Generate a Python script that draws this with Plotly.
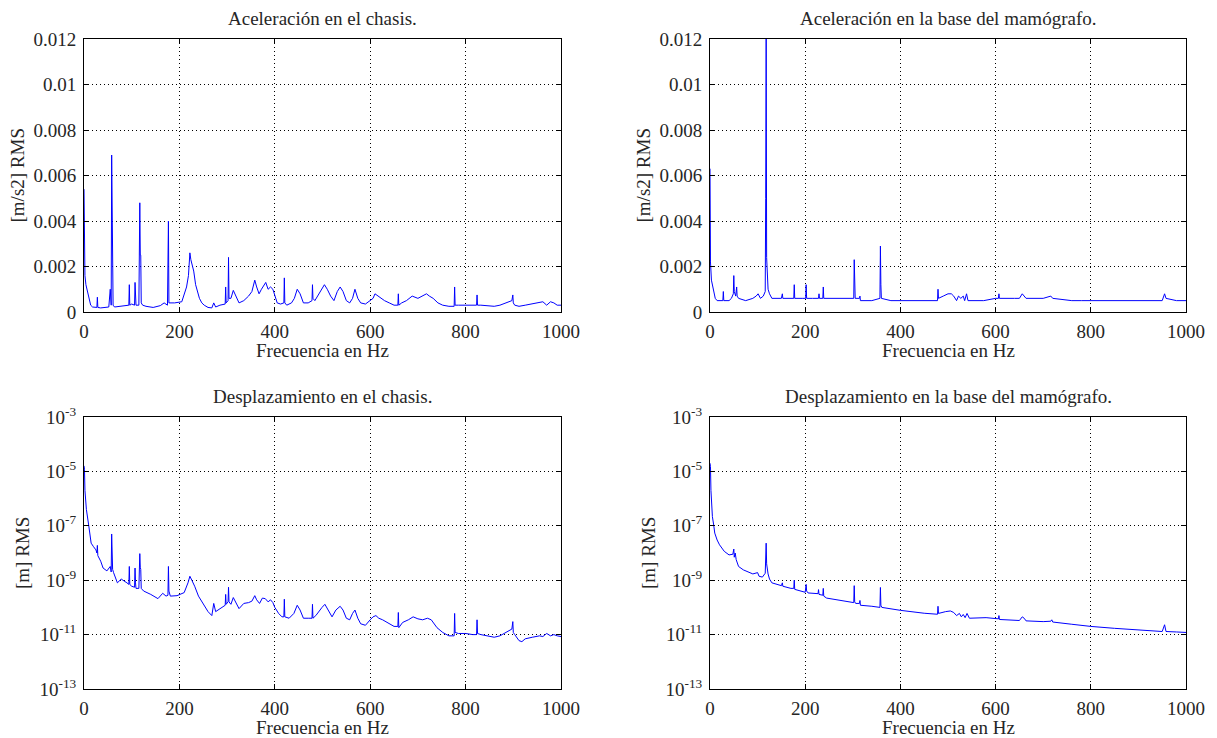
import plotly.graph_objects as go

# ---------------- data ----------------
acc_chasis_f = [0, 1, 2, 4, 7, 10, 14, 18, 24, 27, 28, 29, 35, 45, 52, 55, 57, 58, 59, 60, 61, 64, 75, 85, 94, 95, 96,
                100, 106, 107, 108, 109, 115, 117, 118, 119, 120, 123, 130, 145, 160, 168, 175, 176, 177, 178, 181, 190,
                205, 210, 215, 219, 222, 224, 227, 230, 234, 238, 242, 247, 252, 260, 268, 272, 276, 285, 296, 297, 298,
                302, 303, 304, 308, 313, 318, 325, 335, 345, 352, 358, 362, 367, 372, 377, 381, 386, 391, 396, 400, 405,
                412, 419, 420, 421, 425, 435, 441, 447, 453, 460, 470, 478, 479, 480, 484, 492, 499, 504, 510, 517, 524,
                531, 537, 543, 550, 557, 563, 568, 574, 580, 590, 600, 606, 610, 616, 622, 630, 640, 650, 658, 659, 660,
                666, 676, 688, 700, 710, 718, 724, 732, 742, 752, 765, 776, 777, 778, 785, 800, 815, 823, 824, 825, 832,
                845, 860, 872, 885, 897, 899, 900, 903, 912, 925, 940, 955, 962, 970, 978, 985, 992, 1000]
acc_chasis_v = [0.0054, 0.0018, 0.0016, 0.0012, 0.0009, 0.0006, 0.0003, 0.00022, 0.0002, 0.0002, 0.00065, 0.0002,
                0.00018, 0.0002, 0.00022, 0.001, 0.0003, 0.0069, 0.0051, 0.0012, 0.0003, 0.00022, 0.00025, 0.0003,
                0.0003, 0.0012, 0.0003, 0.00035, 0.0003, 0.0013, 0.0007, 0.0003, 0.0003, 0.0048, 0.0025, 0.0025, 0.0004,
                0.0003, 0.00025, 0.0002, 0.00028, 0.0004, 0.0003, 0.0029, 0.004, 0.0004, 0.0004, 0.0004, 0.00045, 0.0008,
                0.0011, 0.0016, 0.0026, 0.0023, 0.002, 0.0018, 0.0012, 0.0009, 0.0006, 0.0004, 0.0003, 0.0002, 0.00018,
                0.0004, 0.00022, 0.0003, 0.00035, 0.0011, 0.0004, 0.0005, 0.0024, 0.0006, 0.0006, 0.00095, 0.0007,
                0.0004, 0.0005, 0.0007, 0.0009, 0.0014, 0.0011, 0.0008, 0.001, 0.0012, 0.0013, 0.001, 0.0011, 0.001,
                0.0007, 0.0004, 0.00035, 0.0004, 0.0015, 0.0004, 0.0003, 0.0004, 0.0006, 0.001, 0.0008, 0.0004, 0.0004,
                0.0005, 0.0012, 0.0006, 0.0005, 0.0008, 0.001, 0.0012, 0.001, 0.0007, 0.0005, 0.0009, 0.0011, 0.0009,
                0.0005, 0.0004, 0.0006, 0.001, 0.0006, 0.0004, 0.00035, 0.0005, 0.0006, 0.0008, 0.0007, 0.0006, 0.0005,
                0.0004, 0.0003, 0.0003, 0.0008, 0.0003, 0.0004, 0.0005, 0.0007, 0.0006, 0.0007, 0.0008, 0.0007, 0.0006,
                0.0004, 0.0003, 0.00025, 0.00025, 0.0011, 0.0003, 0.0003, 0.0003, 0.00032, 0.0003, 0.00075, 0.0003,
                0.0003, 0.00028, 0.00025, 0.0003, 0.0004, 0.0005, 0.00075, 0.0004, 0.0003, 0.00025, 0.0003, 0.00035,
                0.0004, 0.00045, 0.0003, 0.00045, 0.0004, 0.0003, 0.0003]

acc_base_f = [0, 1, 3, 5, 8, 11, 15, 22, 27, 28, 29, 40, 45, 49, 50, 51, 54, 56, 57, 60, 75, 90, 97, 101, 106, 112, 116,
              117, 118, 119, 120, 122, 125, 130, 150, 152, 153, 170, 176, 177, 178, 195, 201, 202, 203, 215, 228, 229,
              230, 237, 238, 239, 260, 290, 302, 303, 304, 305, 314, 315, 316, 340, 357, 358, 359, 360, 380, 400, 440,
              470, 478, 479, 480, 490, 500, 507, 512, 518, 522, 527, 532, 535, 539, 542, 550, 575, 600, 606, 607, 608,
              640, 650, 656, 660, 664, 700, 716, 720, 760, 780, 800, 900, 950, 955, 958, 980, 1000]
acc_base_v = [0.0063, 0.0022, 0.0014, 0.0012, 0.0009, 0.0006, 0.0005, 0.0005, 0.0005, 0.0009, 0.0005, 0.0005, 0.0006,
              0.0008, 0.0016, 0.0009, 0.0007, 0.0011, 0.0007, 0.0006, 0.0005, 0.0006, 0.0007, 0.0008, 0.0006, 0.0007,
              0.0009, 0.005, 0.0125, 0.0024, 0.0016, 0.001, 0.0008, 0.0006, 0.0006, 0.0008, 0.0006, 0.0006, 0.0006,
              0.0012, 0.0006, 0.0006, 0.0006, 0.0012, 0.0006, 0.0006, 0.0006, 0.0008, 0.0006, 0.0006, 0.0011, 0.0006,
              0.0006, 0.0006, 0.0006, 0.0023, 0.0016, 0.0006, 0.0006, 0.0007, 0.0005, 0.0005, 0.0006, 0.0029, 0.0012,
              0.0006, 0.0005, 0.0005, 0.0005, 0.0005, 0.0005, 0.001, 0.0006, 0.0007, 0.0008, 0.0008, 0.0007, 0.0005,
              0.0007, 0.0006, 0.0007, 0.0005, 0.0008, 0.0005, 0.0005, 0.0005, 0.0006, 0.0006, 0.0008, 0.0006, 0.0006,
              0.0006, 0.0008, 0.0007, 0.0006, 0.0006, 0.0007, 0.0006, 0.0005, 0.0005, 0.0005, 0.0005, 0.0005, 0.0008,
              0.0006, 0.0005, 0.0005]

disp_chasis_f = [0, 1, 2, 5, 10, 15, 20, 25, 27, 28, 29, 35, 40, 48, 55, 57, 58, 59, 60, 62, 70, 78, 84, 90, 94, 95, 96,
                 100, 106, 107, 108, 109, 115, 117, 118, 119, 120, 125, 140, 155, 165, 172, 176, 177, 178, 181, 195,
                 210, 218, 222, 226, 232, 240, 250, 260, 268, 272, 276, 285, 296, 297, 298, 302, 303, 304, 308, 313,
                 318, 325, 335, 345, 352, 358, 362, 368, 374, 380, 386, 391, 396, 400, 408, 415, 419, 420, 421, 430,
                 440, 447, 453, 460, 470, 478, 479, 480, 486, 494, 499, 505, 512, 520, 528, 537, 543, 550, 557, 563,
                 568, 574, 580, 590, 600, 606, 612, 618, 626, 640, 650, 658, 659, 660, 668, 680, 690, 700, 710, 720,
                 728, 740, 752, 765, 776, 777, 778, 785, 800, 815, 823, 824, 825, 832, 845, 860, 872, 885, 897, 899,
                 900, 903, 912, 918, 925, 940, 955, 962, 970, 978, 985, 992, 1000]
disp_chasis_v = [1.6e-5, 1.2e-5, 2e-6, 4e-7, 1e-7, 2.3e-8, 1.7e-8, 1.3e-8, 1e-8, 1.9e-8, 8e-9, 5e-9, 2.8e-9, 2.2e-9,
                 3.2e-9, 2e-9, 5e-8, 1.5e-8, 2.5e-9, 1.9e-9, 8e-10, 1.1e-9, 9e-10, 8e-10, 7e-10, 3.2e-9, 7e-10, 6e-10,
                 5.5e-10, 2.8e-9, 8e-10, 5e-10, 5e-10, 9.5e-9, 3e-9, 2.5e-9, 5e-10, 4e-10, 3e-10, 2.1e-10, 3.3e-10,
                 2.6e-10, 2.8e-10, 3.2e-9, 4e-10, 2.6e-10, 2.7e-10, 3.5e-10, 8e-10, 1.4e-9, 1e-9, 6e-10, 2.6e-10,
                 1.3e-10, 7e-11, 5e-11, 1.4e-10, 7e-11, 9e-11, 1.2e-10, 3e-10, 1.3e-10, 1.6e-10, 5.5e-10, 1.6e-10,
                 1.3e-10, 2.3e-10, 1.6e-10, 9e-11, 1.4e-10, 1.5e-10, 1.7e-10, 2.7e-10, 1.9e-10, 1.4e-10, 2.2e-10,
                 2.1e-10, 1.6e-10, 1.9e-10, 1.5e-10, 1e-10, 6e-11, 4.5e-11, 4.5e-11, 2e-10, 4.5e-11, 4e-11, 6e-11,
                 1.2e-10, 8e-11, 4e-11, 4e-11, 4e-11, 1.3e-10, 4e-11, 5e-11, 8e-11, 1e-10, 1.3e-10, 8e-11, 4.5e-11,
                 8e-11, 1.1e-10, 8e-11, 4e-11, 3.5e-11, 6e-11, 8e-11, 4e-11, 2.5e-11, 2.2e-11, 3.5e-11, 4.5e-11, 5e-11,
                 4e-11, 3.5e-11, 2.5e-11, 2e-11, 2e-11, 6.5e-11, 1.8e-11, 2.8e-11, 3.5e-11, 4.5e-11, 3.8e-11, 3.5e-11,
                 4e-11, 3.5e-11, 1.8e-11, 1.2e-11, 9e-12, 9e-12, 6e-11, 1.2e-11, 1.1e-11, 1.1e-11, 1e-11, 1e-11,
                 3.5e-11, 1.1e-11, 1e-11, 9e-12, 8e-12, 9e-12, 1.2e-11, 1.6e-11, 3e-11, 1.2e-11, 1e-11, 6e-12, 5.5e-12,
                 7e-12, 8e-12, 9e-12, 8.5e-12, 1.1e-11, 9e-12, 1e-11, 9e-12, 8.5e-12]

disp_base_f = [0, 1, 2, 3, 5, 8, 10, 15, 20, 30, 40, 48, 50, 51, 53, 55, 60, 70, 90, 100, 103, 110, 116, 118, 119, 122,
               125, 130, 150, 152, 153, 170, 176, 177, 178, 200, 202, 203, 206, 227, 228, 229, 237, 238, 239, 245, 280,
               300, 302, 303, 304, 306, 314, 315, 316, 340, 357, 358, 359, 361, 400, 450, 470, 478, 479, 480, 495, 505,
               512, 518, 524, 528, 532, 536, 540, 545, 580, 600, 606, 607, 608, 650, 656, 660, 664, 700, 716, 718, 720,
               760, 800, 850, 900, 950, 955, 958, 980, 1000]
disp_base_v = [2e-5, 1.5e-5, 2e-6, 7e-7, 2.2e-7, 1e-7, 5.4e-8, 3e-8, 2e-8, 1.15e-8, 8.5e-9, 9e-9, 1.4e-8, 7e-9, 1e-8,
               5.7e-9, 3.2e-9, 2.4e-9, 1.7e-9, 1.9e-9, 1.4e-9, 1.3e-9, 1.8e-9, 2.3e-8, 4e-9, 1.7e-9, 1.1e-9, 8e-10,
               6.3e-10, 8e-10, 6e-10, 5e-10, 5e-10, 1e-9, 4.6e-10, 3.6e-10, 7e-10, 4e-10, 3.4e-10, 3.2e-10, 4.5e-10,
               3e-10, 2.8e-10, 5e-10, 2.6e-10, 2.2e-10, 1.7e-10, 1.5e-10, 1.5e-10, 6.3e-10, 1.6e-10, 1.4e-10, 1.4e-10,
               1.8e-10, 1.2e-10, 1.1e-10, 1e-10, 5.4e-10, 1.2e-10, 1e-10, 7.8e-11, 6.1e-11, 5.6e-11, 5.6e-11, 1.1e-10,
               6e-11, 7e-11, 7.4e-11, 6.5e-11, 5e-11, 6e-11, 4.5e-11, 5.5e-11, 4.2e-11, 6e-11, 4e-11, 4.2e-11, 3.9e-11,
               3.8e-11, 5e-11, 3.6e-11, 3.3e-11, 4.5e-11, 4e-11, 3.2e-11, 3e-11, 3.1e-11, 3.5e-11, 2.9e-11, 2.4e-11,
               2e-11, 1.7e-11, 1.5e-11, 1.3e-11, 2.3e-11, 1.3e-11, 1.25e-11, 1.2e-11]

titles = ["Aceleración en el chasis.", "Aceleración en la base del mamógrafo.",
          "Desplazamiento en el chasis.", "Desplazamiento en la base del mamógrafo."]
x_label = "Frecuencia en Hz"
y_labels = ["[m/s2] RMS", "[m/s2] RMS", "[m] RMS", "[m] RMS"]

x_ticks = [0, 200, 400, 600, 800, 1000]
lin_ticks = [0, 0.002, 0.004, 0.006, 0.008, 0.01, 0.012]
lin_text = ["0", "0.002", "0.004", "0.006", "0.008", "0.01", "0.012"]
log_exps = [-13, -11, -9, -7, -5, -3]

# ---------------- figure ----------------
W, H = 1217, 738
FONT = "Liberation Serif"
TXT = "#262626"
FS = 19

def px_x(p):
    return p / W

def px_y(p):
    return 1 - p / H

# pixel boxes of the four axes (left, right, top, bottom)
boxes = [(84, 561, 39, 312), (710, 1186, 39, 312), (84, 561, 417, 689), (710, 1186, 417, 689)]

fig = go.Figure()
series = [(acc_chasis_f, acc_chasis_v), (acc_base_f, acc_base_v),
          (disp_chasis_f, disp_chasis_v), (disp_base_f, disp_base_v)]
for i, (fx, fy) in enumerate(series):
    sfx = "" if i == 0 else str(i + 1)
    fig.add_trace(go.Scatter(x=fx, y=fy, mode="lines", line=dict(color="#0000ff", width=1),
                             xaxis="x" + sfx, yaxis="y" + sfx, showlegend=False, hoverinfo="skip"))

common = dict(showline=True, linecolor="black", linewidth=1, mirror="ticks", ticks="inside", ticklen=5,
              tickcolor="black", showgrid=True, gridcolor="black", griddash="1px,3px", gridwidth=1, zeroline=False,
              automargin=False, tickfont=dict(family=FONT, size=FS, color=TXT))

layout = dict(template="none", width=W, height=H, margin=dict(l=0, r=0, t=0, b=0, pad=0),
              paper_bgcolor="white", plot_bgcolor="white",
              font=dict(family=FONT, size=FS, color=TXT), showlegend=False)
annotations = []
for i, (l, r, t, b) in enumerate(boxes):
    sfx = "" if i == 0 else str(i + 1)
    xa = dict(common, domain=[px_x(l), px_x(r)], range=[0, 1000], tickvals=x_ticks,
              anchor="y" + sfx, ticklabelstandoff=2)
    if i < 2:
        ya = dict(common, domain=[px_y(b), px_y(t)], range=[0, 0.012], tickvals=lin_ticks, ticktext=lin_text,
                  anchor="x" + sfx, ticklabelstandoff=3)
    else:
        ya = dict(common, type="log", domain=[px_y(b), px_y(t)], range=[-13, -3],
                  tickvals=[10.0 ** e for e in log_exps],
                  ticktext=["10<sup>%d</sup>" % e for e in log_exps],
                  anchor="x" + sfx, ticklabelstandoff=3)
    layout["xaxis" + sfx] = xa
    layout["yaxis" + sfx] = ya
    cx = (l + r) / 2
    annotations.append(dict(text=titles[i], x=px_x(cx), y=px_y(t - 21), xref="paper", yref="paper",
                            showarrow=False, xanchor="center", yanchor="middle",
                            font=dict(family=FONT, size=FS, color=TXT)))
    annotations.append(dict(text=x_label, x=px_x(cx), y=px_y(b + 38), xref="paper", yref="paper",
                            showarrow=False, xanchor="center", yanchor="middle",
                            font=dict(family=FONT, size=FS, color=TXT)))
    ylx = l - 67 if i < 2 else l - 62
    annotations.append(dict(text=y_labels[i], x=px_x(ylx), y=px_y((t + b) / 2), xref="paper", yref="paper",
                            showarrow=False, xanchor="center", yanchor="middle", textangle=-90,
                            font=dict(family=FONT, size=FS, color=TXT)))
layout["annotations"] = annotations
fig.update_layout(**layout)

fig.write_html("out.html", config={"displayModeBar": False},
               post_script="document.body.style.margin='0';document.body.style.overflow='hidden';")
